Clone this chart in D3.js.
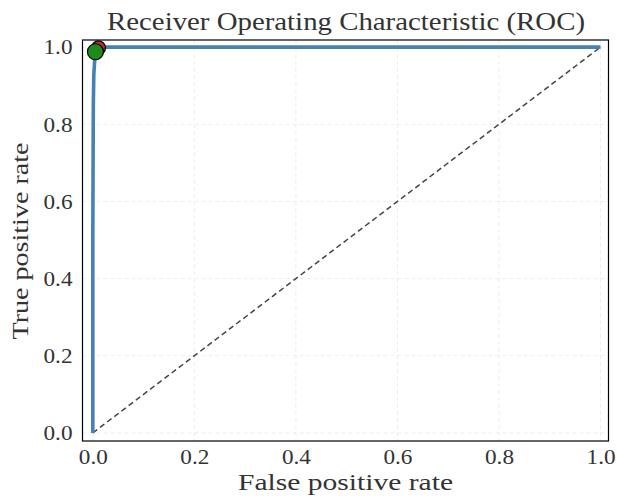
<!DOCTYPE html>
<html><head><meta charset="utf-8">
<script src="https://cdn.jsdelivr.net/npm/d3@7"></script>
<style>body{margin:0;background:#fff}svg{display:block}</style>
</head><body>
<svg id="c" width="617" height="501"></svg>
<script>
const fpr = [0, 0, 0.001, 0.002, 0.004, 0.007, 0.012, 0.02, 0.1, 0.5, 1];
const tpr = [0, 0.5, 0.85, 0.93, 0.97, 0.99, 0.997, 1.0, 1.0, 1.0, 1.0];
const diagX = [0, 1];
const diagY = [0, 1];
const points = [
  {name: "red", x: 0.0112, y: 0.998, r: 7, color: "#c0282d"},
  {name: "green", x: 0.0052, y: 0.988, r: 8, color: "#1e8a1e"}
];
const ticks = [0.0, 0.2, 0.4, 0.6, 0.8, 1.0];
const title = "Receiver Operating Characteristic (ROC)";
const xLabel = "False positive rate";
const yLabel = "True positive rate";

const svg = d3.select("#c");
const L = 82.5, R = 608.5, T = 40, B = 441;
const x = d3.scaleLinear().domain([-0.0203, 1.0157]).range([L, R]);
const y = d3.scaleLinear().domain([-0.021, 1.0185]).range([B, T]);
const font = "'Liberation Serif', 'DejaVu Serif', serif";
const txt = "#333";

// grid
const g = svg.append("g");
g.selectAll(".gx").data(ticks).join("line")
  .attr("x1", d => x(d)).attr("x2", d => x(d)).attr("y1", T).attr("y2", B)
  .attr("stroke", "#e8e8e8").attr("stroke-width", 0.8).attr("stroke-dasharray", "4,3");
g.selectAll(".gy").data(ticks).join("line")
  .attr("y1", d => y(d)).attr("y2", d => y(d)).attr("x1", L).attr("x2", R)
  .attr("stroke", "#e8e8e8").attr("stroke-width", 0.8).attr("stroke-dasharray", "4,3");

// axes with library
const xAxis = d3.axisBottom(x).tickValues(ticks).tickFormat(d3.format(".1f")).tickSize(0).tickPadding(8);
const yAxis = d3.axisLeft(y).tickValues(ticks).tickFormat(d3.format(".1f")).tickSize(0).tickPadding(10);
const ax = svg.append("g").attr("transform", `translate(0,${B})`).call(xAxis);
const ay = svg.append("g").attr("transform", `translate(${L},0)`).call(yAxis);
[ax, ay].forEach(a => {
  a.select(".domain").remove();
  a.selectAll("text").attr("font-family", font).attr("font-size", 21).attr("fill", txt)
    .attr("textLength", 29).attr("lengthAdjust", "spacingAndGlyphs");
});

// diagonal
const line = d3.line().x(d => x(d[0])).y(d => y(d[1]));
svg.append("path").datum(d3.zip(diagX, diagY)).attr("d", line)
  .attr("fill", "none").attr("stroke", "#444").attr("stroke-width", 1.5).attr("stroke-dasharray", "5.5,3.5");

// ROC
svg.append("path").datum(d3.zip(fpr, tpr)).attr("d", line)
  .attr("fill", "none").attr("stroke", "#4682b4").attr("stroke-width", 3.6)
  .attr("stroke-linejoin", "round");

// points
svg.selectAll(".pt").data(points).join("circle")
  .attr("cx", d => x(d.x)).attr("cy", d => y(d.y)).attr("r", d => d.r)
  .attr("fill", d => d.color).attr("stroke", "#000").attr("stroke-width", 1.2);

// frame
svg.append("rect").attr("x", L).attr("y", T).attr("width", R - L).attr("height", B - T)
  .attr("fill", "none").attr("stroke", "#000").attr("stroke-width", 1.2);

// labels
svg.append("text").attr("x", 346).attr("y", 30).attr("text-anchor", "middle")
  .attr("font-family", font).attr("font-size", 26).attr("fill", txt)
  .attr("textLength", 478).attr("lengthAdjust", "spacingAndGlyphs").text(title);
svg.append("text").attr("x", 345.5).attr("y", 490).attr("text-anchor", "middle")
  .attr("font-family", font).attr("font-size", 24).attr("fill", txt)
  .attr("textLength", 215).attr("lengthAdjust", "spacingAndGlyphs").text(xLabel);
svg.append("text").attr("transform", `translate(28,241) rotate(-90)`).attr("text-anchor", "middle")
  .attr("font-family", font).attr("font-size", 24).attr("fill", txt)
  .attr("textLength", 197).attr("lengthAdjust", "spacingAndGlyphs").text(yLabel);
</script>
</body></html>
